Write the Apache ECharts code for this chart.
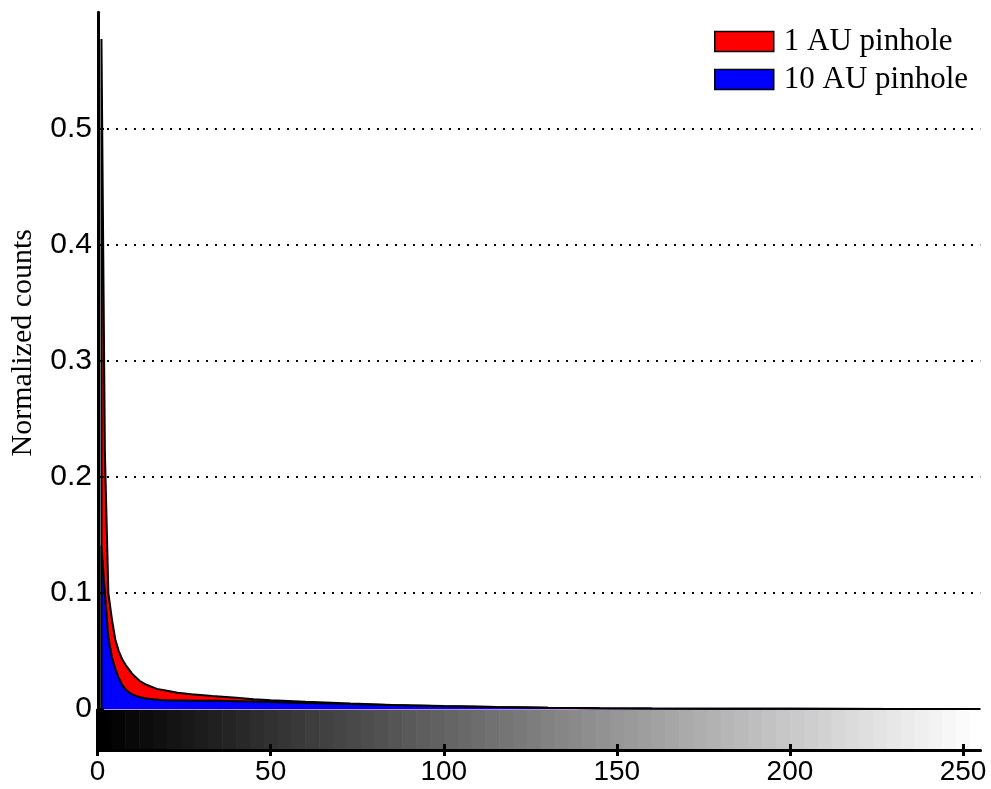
<!DOCTYPE html>
<html><head><meta charset="utf-8">
<script src="https://cdn.jsdelivr.net/npm/echarts@6/dist/echarts.min.js"></script>
<style>html,body{margin:0;padding:0;background:#fff}#c{width:991px;height:789px}</style>
</head><body><div id="c"></div>
<script>
// ---- data ----
const seriesNames = ['1 AU pinhole', '10 AU pinhole'];
const xRed = [1, 1, 2, 3, 4, 5, 6, 7, 8, 9, 10, 12, 14, 17, 20, 23, 27, 33, 40, 45, 50, 60, 73, 85, 100, 115, 130, 145, 160, 180, 200, 230, 255];
const red1AU = [0, 0.577, 0.22, 0.10, 0.078, 0.060, 0.050, 0.043, 0.038, 0.034, 0.030, 0.0245, 0.021, 0.0175, 0.0158, 0.0142, 0.0128, 0.0113, 0.0098, 0.0086, 0.0078, 0.0064, 0.0049, 0.0037, 0.0027, 0.0019, 0.0013, 0.0009, 0.0006, 0.0004, 0.0003, 0.0002, 0.0001];
const xBlue = [1, 1, 2, 3, 4, 5, 6, 7, 8, 9, 10, 11, 12, 14, 16, 18, 20, 25, 30, 35, 40, 45, 50, 60, 70, 80, 90, 100, 115, 130, 145, 160, 180, 200, 230, 255];
const blue10AU = [0, 0.141, 0.10, 0.062, 0.045, 0.035, 0.027, 0.021, 0.017, 0.0145, 0.0128, 0.0115, 0.0105, 0.0093, 0.0085, 0.008, 0.0077, 0.0075, 0.0073, 0.0072, 0.0069, 0.0066, 0.0062, 0.0054, 0.0046, 0.0039, 0.0032, 0.0026, 0.0019, 0.0013, 0.0009, 0.0006, 0.0004, 0.0003, 0.0002, 0.0001];
const yTickValues = [0, 0.1, 0.2, 0.3, 0.4, 0.5];
const xTickValues = [0, 50, 100, 150, 200, 250];
const grayLevels = 64;   // colormap steps of the grey bar
const grayRangeMax = 255;

const SANS = "'Liberation Sans', Arial, Helvetica, sans-serif";
const SERIF = "'Liberation Serif', 'Times New Roman', serif";

const redData = xRed.map((x, i) => [x, red1AU[i]]);
const blueData = xBlue.map((x, i) => [x, blue10AU[i]]);
const stepW = (grayRangeMax + 1) / grayLevels;
const grayData = [];
for (let k = 0; k < grayLevels; k++) {
  grayData.push([k * stepW, Math.min((k + 1) * stepW, grayRangeMax), Math.round(255 * k / (grayLevels - 1))]);
}

const L = 97.6, W = 882.7;
const chart = echarts.init(document.getElementById('c'), null, {renderer: 'canvas'});
chart.setOption({
  animation: false,
  backgroundColor: '#fff',
  grid: [
    {left: L, width: W, top: 12.2, height: 697},
    {left: L, width: W, top: 710, height: 40}
  ],
  legend: {
    orient: 'vertical', left: 714, top: 26, align: 'left', padding: 0,
    icon: 'rect', itemWidth: 59, itemHeight: 20, itemGap: 7,
    itemStyle: {borderColor: '#000', borderWidth: 1.5},
    textStyle: {fontFamily: SERIF, fontSize: 31, color: '#000', lineHeight: 30, padding: [0, 0, 0, 5]},
    data: [
      {name: seriesNames[0], itemStyle: {color: '#ff0000', borderColor: '#000', borderWidth: 1.5}},
      {name: seriesNames[1], itemStyle: {color: '#0000ff', borderColor: '#000', borderWidth: 1.5}}
    ]
  },
  xAxis: [
    {gridIndex: 0, type: 'value', min: 0, max: grayRangeMax, show: false},
    {gridIndex: 1, type: 'value', min: 0, max: grayRangeMax, interval: 50, position: 'bottom', z: 5,
      axisLine: {show: true, lineStyle: {color: '#000', width: 3}},
      axisTick: {show: true, inside: true, length: 6, customValues: xTickValues, lineStyle: {color: '#000', width: 3}},
      axisLabel: {show: true, margin: 8, fontSize: 28, fontFamily: SANS, color: '#000', customValues: xTickValues,
        formatter: v => String(Math.round(v))},
      splitLine: {show: false}},
    {gridIndex: 1, type: 'value', min: 0, max: grayRangeMax, interval: 50, position: 'top', z: 5,
      axisLine: {show: true, lineStyle: {color: '#000', width: 3}},
      axisTick: {show: true, inside: true, length: 6, customValues: xTickValues, lineStyle: {color: '#000', width: 3}},
      axisLabel: {show: false}, splitLine: {show: false}}
  ],
  yAxis: [
    {gridIndex: 0, type: 'value', min: 0, max: 0.6, interval: 0.1, z: 5,
      axisLine: {show: true, lineStyle: {color: '#000', width: 3}},
      axisTick: {show: true, inside: true, length: 6, customValues: yTickValues, lineStyle: {color: '#000', width: 2}},
      axisLabel: {margin: 6, fontSize: 30, fontFamily: SANS, color: '#000', customValues: yTickValues,
        formatter: v => String(Math.round(v * 10) / 10)},
      splitLine: {show: true, showMinLine: false, showMaxLine: true, lineStyle: {color: '#000', width: 2, type: [2, 7]}},
      name: 'Normalized counts', nameLocation: 'middle', nameGap: 60,
      nameTextStyle: {fontFamily: SERIF, fontSize: 30, color: '#000', padding: [0, 0, 0, 36]}},
    {gridIndex: 1, type: 'value', min: 0, max: 1, z: 5,
      axisLine: {show: true, lineStyle: {color: '#000', width: 3}},
      axisTick: {show: false}, axisLabel: {show: false}, splitLine: {show: false}},
    {gridIndex: 1, type: 'value', min: 0, max: 1, position: 'right', z: 5,
      axisLine: {show: true, lineStyle: {color: '#000', width: 3}},
      axisTick: {show: false}, axisLabel: {show: false}, splitLine: {show: false}}
  ],
  series: [
    {type: 'line', name: seriesNames[0], xAxisIndex: 0, yAxisIndex: 0, data: redData,
      symbol: 'none', showSymbol: false, z: 2,
      lineStyle: {color: '#000', width: 2}, itemStyle: {color: '#ff0000'},
      areaStyle: {color: '#ff0000', opacity: 1}},
    {type: 'line', name: seriesNames[1], xAxisIndex: 0, yAxisIndex: 0, data: blueData,
      symbol: 'none', showSymbol: false, z: 3,
      lineStyle: {color: '#000', width: 2}, itemStyle: {color: '#0000ff'},
      areaStyle: {color: '#0000ff', opacity: 1}},
    {type: 'custom', xAxisIndex: 1, yAxisIndex: 1, data: grayData, z: 1, silent: true,
      encode: {x: [0, 1]},
      renderItem: (params, api) => {
        const p0 = api.coord([api.value(0), 1]);
        const p1 = api.coord([api.value(1), 0]);
        const g = api.value(2);
        return {type: 'rect', shape: {x: p0[0], y: p0[1], width: p1[0] - p0[0] + 0.6, height: p1[1] - p0[1]},
          style: {fill: 'rgb(' + g + ',' + g + ',' + g + ')'}};
      }}
  ]
});
</script></body></html>
